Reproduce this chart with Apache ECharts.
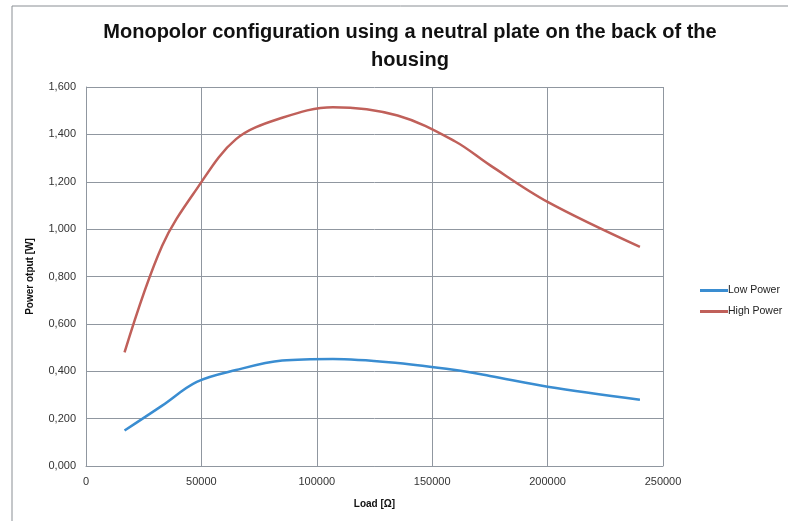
<!DOCTYPE html>
<html>
<head>
<meta charset="utf-8">
<script src="https://cdn.jsdelivr.net/npm/echarts@6/dist/echarts.min.js"></script>
<style>
  html, body { margin: 0; padding: 0; background: #fff; }
  #chart { width: 788px; height: 521px; }
</style>
</head>
<body>
<div id="chart"></div>
<script>
// load values [Ω]
const loads = [16700, 33000, 48000, 65000, 85000, 107000, 135000, 160000, 175000, 200000, 240000]
const lowPower = [0.15, 0.255, 0.355, 0.405, 0.445, 0.452, 0.435, 0.405, 0.38, 0.335, 0.28]
const highPower = [0.48, 0.93, 1.17, 1.38, 1.47, 1.515, 1.48, 1.37, 1.27, 1.115, 0.925]

const font = 'Liberation Sans'
const gridColor = '#9097a0'

let mychart = echarts.init(document.getElementById('chart'))

let option = {
  textStyle: { fontFamily: font },
  title: {
    text: 'Monopolor configuration using a neutral plate on the back of the\nhousing',
    left: 405,
    textAlign: 'center',
    top: 13,
    textStyle: { fontFamily: font, fontSize: 20, fontWeight: 'bold', color: '#111', lineHeight: 28 }
  },
  graphic: [{
    type: 'rect',
    shape: { x: 12, y: 6, width: 820, height: 560 },
    style: { fill: 'none', stroke: '#8a8f94', lineWidth: 1 },
    silent: true
  }],
  legend: {
    orient: 'vertical',
    left: 695,
    top: 280,
    itemGap: 10,
    itemWidth: 28,
    itemHeight: 3,
    icon: 'rect',
    textStyle: { fontFamily: font, fontSize: 10.5, color: '#222', padding: [0, 0, 0, -5] },
    data: ['Low Power', 'High Power']
  },
  grid: { left: 86, right: 125, top: 87, bottom: 55 },
  xAxis: {
    type: 'value',
    min: 0,
    max: 250000,
    interval: 50000,
    name: 'Load [Ω]',
    nameLocation: 'middle',
    nameGap: 33,
    nameTextStyle: { fontFamily: font, fontSize: 10, fontWeight: 'bold', color: '#111' },
    axisLine: { lineStyle: { color: gridColor } },
    axisTick: { show: false },
    axisLabel: { fontSize: 11, color: '#333', margin: 10, formatter: v => String(v) },
    splitLine: { lineStyle: { color: gridColor, width: 1 } }
  },
  yAxis: {
    type: 'value',
    min: 0,
    max: 1.6,
    interval: 0.2,
    name: 'Power otput [W]',
    nameLocation: 'middle',
    nameGap: 51,
    nameTextStyle: { fontFamily: font, fontSize: 10, fontWeight: 'bold', color: '#111' },
    axisLine: { show: true, lineStyle: { color: gridColor } },
    axisTick: { show: false },
    axisLabel: {
      fontSize: 11,
      color: '#333',
      margin: 10,
      formatter: v => v.toFixed(3).replace('.', ',')
    },
    splitLine: { lineStyle: { color: gridColor, width: 1 } }
  },
  series: [
    {
      name: 'Low Power',
      type: 'line',
      smooth: 0.35,
      showSymbol: false,
      data: loads.map((x, i) => [x, lowPower[i]]),
      lineStyle: { color: '#3a8dd1', width: 2.5 },
      itemStyle: { color: '#3a8dd1' }
    },
    {
      name: 'High Power',
      type: 'line',
      smooth: 0.35,
      showSymbol: false,
      data: loads.map((x, i) => [x, highPower[i]]),
      lineStyle: { color: '#c0605a', width: 2.5 },
      itemStyle: { color: '#c0605a' }
    }
  ]
}
mychart.setOption(option)
</script>
</body>
</html>
